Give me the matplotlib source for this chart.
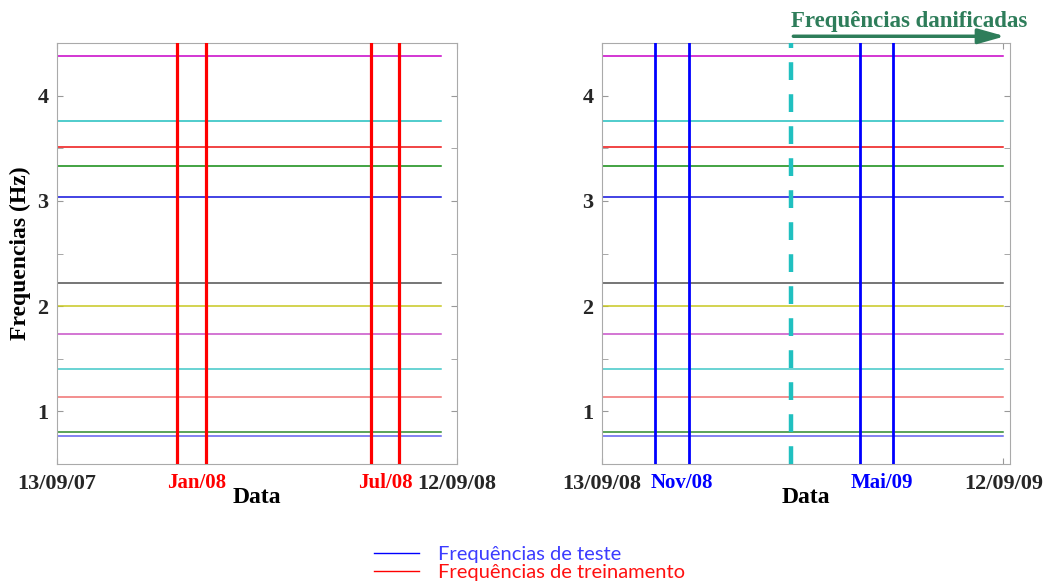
import numpy as np
import matplotlib
matplotlib.use('Agg')
import matplotlib.pyplot as plt
import matplotlib.dates as mdates
from matplotlib.lines import Line2D

# frequencias identificadas (Hz), mesmas em ambos os periodos
freqs = [4.376, 3.759, 3.512, 3.331, 3.034, 2.217, 2.000, 1.738, 1.403, 1.137, 0.808, 0.763]
cores = ['#c800c8', '#1fbfbf', '#ee1111', '#108a10', '#1010dd', '#505050',
         '#c8c820', '#c850c8', '#40c8c8', '#f07070', '#2e8a2e', '#6060ee']

# periodo de treinamento
treino_ini, treino_fim = '2007-09-13', '2008-09-12'
treino_linhas = ['2008-01-05', '2008-02-02', '2008-07-07', '2008-08-03']
treino_rotulos = ['Jan/08', 'Jul/08']
treino_rot_datas = ['2008-01-24', '2008-07-21']
treino_ticks = ['13/09/07', '12/09/08']

# periodo de teste
teste_ini, teste_fim = '2008-09-13', '2009-09-12'
teste_linhas = ['2008-10-31', '2008-12-01', '2009-05-05', '2009-06-04']
teste_rotulos = ['Nov/08', 'Mai/09']
teste_rot_datas = ['2008-11-24', '2009-05-25']
teste_ticks = ['13/09/08', '12/09/09']
dano_inicio = '2009-03-03'

plt.rcParams['font.family'] = 'Liberation Serif'
plt.rcParams['font.weight'] = 'bold'

fig = plt.figure(figsize=(10.48, 5.81), dpi=100)
W, H = 1048, 581


def d(s):
    return mdates.date2num(np.datetime64(s))


def eixo(rect, ini, fim, extra, linhas, cor_linha, rotulos, rot_datas, ticks, tick_pos):
    ax = fig.add_axes([rect[0] / W, (H - rect[3]) / H, (rect[2] - rect[0]) / W, (rect[3] - rect[1]) / H])
    x = [d(ini), d(fim)]
    for f, c in zip(freqs, cores):
        ax.plot(x, [f, f], color=c, lw=1.1)
    for l in linhas:
        ax.axvline(d(l), color=cor_linha, lw=2.3 if cor_linha == 'red' else 2.0, zorder=5)
    ax.set_xlim(d(ini), d(fim) + extra)
    ax.set_ylim(0.5, 4.5)
    ax.set_yticks([1, 2, 3, 4])
    ax.set_yticks([1.5, 2.5, 3.5], minor=True)
    ax.set_xticks(tick_pos)
    ax.set_xticklabels(ticks)
    ax.tick_params(axis='both', which='both', direction='in', length=4, color='#999999',
                   right=True, top=True, labelsize=16, labelcolor='#262626', pad=6)
    ax.tick_params(axis='x', pad=7.5)
    for s in ax.spines.values():
        s.set_color('#aaaaaa')
    for r, rd in zip(rotulos, rot_datas):
        ax.text(d(rd), -0.022, r, transform=ax.get_xaxis_transform(), ha='center', va='top',
                color=cor_linha, fontsize=15, fontweight='bold')
    ax.set_xlabel('Data', fontsize=17, fontweight='bold', labelpad=-5)
    return ax


ax1 = eixo((57, 43, 457, 464), treino_ini, treino_fim, 15, treino_linhas, 'red',
           treino_rotulos, treino_rot_datas, treino_ticks, [d(treino_ini), d(treino_fim) + 15])
ax1.set_ylabel('Frequencias (Hz)', fontsize=17, fontweight='bold')
ax1.yaxis.set_label_coords(-0.065, 0.5)

ax2 = eixo((602, 43, 1010, 464), teste_ini, teste_fim, 6, teste_linhas, 'blue',
           teste_rotulos, teste_rot_datas, teste_ticks, [d(teste_ini), d(teste_fim)])
ax2.axvline(d(dano_inicio), color='#20c0c0', lw=3.2, ls=(0, (4, 3.2)), zorder=6)

verde = '#2e7d5a'
ax2.annotate('', xy=(d(teste_fim) + 4, 1.016), xytext=(d(dano_inicio), 1.016),
             xycoords=ax2.get_xaxis_transform(),
             arrowprops=dict(arrowstyle='-|>,head_length=1.6,head_width=0.45', color=verde, lw=2.5))
ax2.text(d(dano_inicio), 1.027, 'Frequências danificadas', transform=ax2.get_xaxis_transform(),
         ha='left', va='bottom', color=verde, fontsize=16.5, fontweight='bold')

handles = [Line2D([], [], color='blue', lw=1), Line2D([], [], color='red', lw=1)]
leg = fig.legend(handles, ['Frequências de teste', 'Frequências de treinamento'],
                 loc='upper left', bbox_to_anchor=(356 / W, 1 - 528 / H), frameon=False,
                 handlelength=2.25, handletextpad=0.9, labelspacing=0.05,
                 prop={'family': 'Lato', 'size': 14.5, 'weight': 'normal'})
leg.get_texts()[0].set_color('#3c3cff')
leg.get_texts()[1].set_color('#ff1010')

fig.savefig('out.png', dpi=100)
